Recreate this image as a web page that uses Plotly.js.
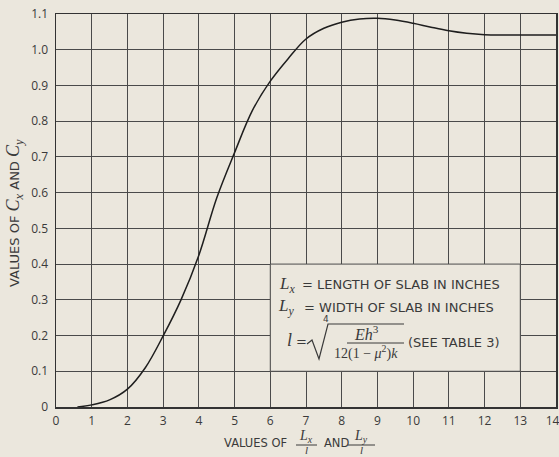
<!DOCTYPE html>
<html><head><meta charset="utf-8">
<script src="https://cdn.plot.ly/plotly-3.0.1.min.js"></script>
<style>html,body{margin:0;padding:0;background:#ebe7dd;}</style>
</head><body><div id="chart" style="width:559px;height:457px;"></div>
<script>
// Data
const ratioValues = [0.6, 1.0, 1.5, 2.0, 2.5, 3.0, 3.5, 4.0, 4.5, 5.0, 5.5, 6.0, 6.5, 7.0, 7.5, 8.0, 8.5, 9.0, 9.5, 10.0, 10.5, 11.0, 11.5, 12.0, 12.5, 13.0, 14.0];
const coefValues  = [0, 0.006, 0.02, 0.05, 0.11, 0.199, 0.300, 0.425, 0.585, 0.712, 0.830, 0.912, 0.975, 1.030, 1.060, 1.077, 1.086, 1.088, 1.083, 1.074, 1.063, 1.053, 1.046, 1.042, 1.041, 1.041, 1.041];
const xTickVals = [0,1,2,3,4,5,6,7,8,9,10,11,12,13,14];
const xTickText = ["0","1","2","3","4","5","6","7","8","9","10","11","12","13","14\u2007"];
const yTickVals = [0,0.1,0.2,0.3,0.4,0.5,0.6,0.7,0.8,0.9,1.0,1.1];
const yTickText = ["0","0.1","0.2","0.3","0.4","0.5","0.6","0.7","0.8","0.9","1.0","1.1"];

const BG = '#ebe7dd', INK = '#3a3a3a', GRID = '#4a4a4a';
const SANS = 'DejaVu Sans', SERIF = 'Liberation Serif';
// pixel -> paper helpers (plot area 56..556 x 14..407)
const PX = p => (p - 56) / 500;
const PY = p => (407 - p) / 393;

function ann(text, x, y, opts) {
  return Object.assign({
    text: text, x: PX(x), y: PY(y), xref: 'paper', yref: 'paper',
    showarrow: false, xanchor: 'center', yanchor: 'middle', borderpad: 0,
    font: {family: SANS, size: 13, color: INK}
  }, opts || {});
}
function serifFont(size) { return {family: SERIF, size: size, color: INK}; }
function sansFont(size) { return {family: SANS, size: size, color: INK}; }
function hline(x0, x1, y, w) {
  return {type: 'line', xref: 'paper', yref: 'paper', x0: PX(x0), x1: PX(x1), y0: PY(y), y1: PY(y),
          line: {color: INK, width: w || 1}, layer: 'above'};
}

const trace = {
  x: ratioValues, y: coefValues, type: 'scatter', mode: 'lines',
  line: {color: '#1e1e1e', width: 1.5, shape: 'spline', smoothing: 1},
  hoverinfo: 'skip', showlegend: false
};

const radical = 'M ' + PX(307) + ' ' + PY(344) + ' L ' + PX(312) + ' ' + PY(340) +
  ' L ' + PX(319) + ' ' + PY(359) + ' L ' + PX(328) + ' ' + PY(324) + ' L ' + PX(404) + ' ' + PY(324);

const layout = {
  width: 559, height: 457,
  margin: {l: 56, r: 3, t: 14, b: 50},
  paper_bgcolor: BG, plot_bgcolor: BG,
  showlegend: false,
  xaxis: {
    range: [0, 14], tickvals: xTickVals, ticktext: xTickText,
    showgrid: true, gridcolor: GRID, gridwidth: 1, zeroline: false,
    showline: true, linecolor: '#333', linewidth: 1.5, mirror: true,
    ticks: '', ticklabelstandoff: 2, ticklabeloverflow: 'allow',
    tickfont: {family: 'Open Sans', size: 12, color: INK}
  },
  yaxis: {
    range: [0, 1.1], tickvals: yTickVals, ticktext: yTickText,
    showgrid: true, gridcolor: GRID, gridwidth: 1, zeroline: false,
    showline: true, linecolor: '#333', linewidth: 1.5, mirror: true,
    ticks: '', ticklabelstandoff: 4, ticklabeloverflow: 'allow',
    tickfont: {family: 'Open Sans', size: 12, color: INK}
  },
  shapes: [
    {type: 'rect', xref: 'x', yref: 'y', x0: 6, x1: 13, y0: 0.1, y1: 0.4,
     fillcolor: BG, line: {color: GRID, width: 1}, layer: 'above'},
    {type: 'path', xref: 'paper', yref: 'paper', path: radical, line: {color: INK, width: 1.2}, layer: 'above'},
    hline(347, 404, 343, 1),
    hline(296, 317, 445, 1),
    hline(348, 375, 445, 1)
  ],
  annotations: [
    // legend box text
    ann('<i>L<sub>x</sub></i>', 278, 285, {xanchor: 'left', font: serifFont(17)}),
    ann('= LENGTH OF SLAB IN INCHES', 301, 284, {xanchor: 'left'}),
    ann('<i>L<sub>y</sub></i>', 277, 307, {xanchor: 'left', font: serifFont(17)}),
    ann('= WIDTH OF SLAB IN INCHES', 303, 307, {xanchor: 'left'}),
    ann('<i>l</i>', 289, 340, {font: serifFont(18)}),
    ann('=', 301, 341),
    ann('4', 326, 319, {font: sansFont(9)}),
    ann('<i>Eh</i><sup>3</sup>', 366, 333, {font: serifFont(16)}),
    ann('12(1 − <i>μ</i><sup>2</sup>)<i>k</i>', 366, 352, {font: serifFont(14)}),
    ann('(SEE TABLE 3)', 407, 342, {xanchor: 'left'}),
    // x-axis title
    ann('VALUES OF', 255, 443, {font: sansFont(11.5)}),
    ann('<i>L<sub>x</sub></i>', 306, 437, {font: serifFont(14)}),
    ann('<i>l</i>', 306, 450, {font: serifFont(11)}),
    ann('AND', 336, 443, {font: sansFont(11.5)}),
    ann('<i>L<sub>y</sub></i>', 361, 437, {font: serifFont(14)}),
    ann('<i>l</i>', 361, 450, {font: serifFont(11)}),
    // y-axis title
    ann('VALUES OF <span style="font-family:Liberation Serif;font-size:18px"><i>C<sub>x</sub></i></span> AND <span style="font-family:Liberation Serif;font-size:18px"><i>C<sub>y</sub></i></span>',
        15, 213, {textangle: -90, font: sansFont(13)})
  ]
};

Plotly.newPlot('chart', [trace], layout, {displayModeBar: false, staticPlot: true});
</script>
</body></html>
